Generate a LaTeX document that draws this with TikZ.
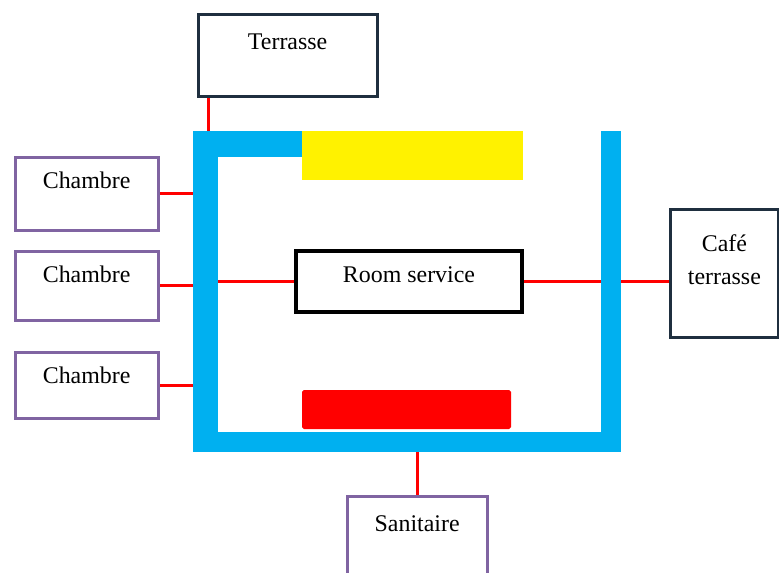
\documentclass[tikz,border=0pt]{standalone}
\usepackage{fontspec}
\setmainfont{Liberation Serif}
\usetikzlibrary{positioning, backgrounds}
\definecolor{wallblue}{HTML}{00B0F0}
\definecolor{roompurple}{HTML}{8064A2}
\definecolor{darknavy}{HTML}{1F2F3F}

\begin{document}
\begin{tikzpicture}[
  block/.style={
    rectangle, anchor=north west, inner sep=0pt,
    font=\fontsize{13.6}{18.8}\selectfont,
    text height=0.62cm, fill=white, line width=0.065cm
  },
  navyblock/.style={block, draw=darknavy},
  roomblock/.style={block, draw=roompurple},
  serviceblock/.style={block, draw=black, line width=0.08cm},
  wallpart/.style={
    rectangle, anchor=north west, inner sep=0pt, outer sep=0pt,
    fill=wallblue
  },
  zone/.style={wallpart, fill=#1},
  link/.style={draw=red, line width=0.06cm}
]
\useasboundingbox (0,0) rectangle (15.58,-11.46);
\clip (0,0) rectangle (15.58,-11.46);
% walls of the hall
\node[wallpart, minimum width=0.50cm, minimum height=6.42cm] (leftwall)   at (3.86,-2.62) {};
\node[wallpart, minimum width=2.18cm, minimum height=0.52cm] (topwall)    at (3.86,-2.62) {};
\node[wallpart, minimum width=8.56cm, minimum height=0.40cm] (bottomwall) at (3.86,-8.64) {};
\node[wallpart, minimum width=0.40cm, minimum height=6.42cm] (rightwall)  at (12.02,-2.62) {};
\node[zone=yellow, minimum width=4.42cm, minimum height=0.98cm] (yellowzone) at (6.04,-2.62) {};
\node[zone=red, rounded corners=1pt, minimum width=4.18cm, minimum height=0.78cm] (redzone) at (6.04,-7.80) {};
% rooms around
\node[navyblock, minimum width=3.58cm, text height=0.71cm, text depth=0.94cm] (terrasse) at (3.93,-0.25) {Terrasse};
\node[roomblock, minimum width=2.86cm, text depth=0.84cm] (chambreA) at (0.27,-3.11) {Chambre};
\node[roomblock, minimum width=2.86cm, text depth=0.76cm, below=0.36cm of chambreA] (chambreB) {Chambre};
\node[roomblock, minimum width=2.86cm, text depth=0.70cm, below=0.58cm of chambreB] (chambreC) {Chambre};
\node[serviceblock, minimum width=4.52cm, text depth=0.60cm] (roomservice) at (5.88,-4.98) {Room service};
\node[navyblock, minimum width=2.17cm, align=center, text height=1.51cm, text depth=1.05cm] (cafe) at (13.37,-4.15) {Café\\terrasse};
\node[roomblock, minimum width=2.80cm, text height=0.71cm, text depth=1.69cm] (sanitaire) at (6.91,-9.89) {Sanitaire};
\coordinate (tdrop) at ([xshift=0.24cm]terrasse.south west);
\begin{scope}[on background layer]
  \draw[link] (tdrop) -- (tdrop |- topwall.north);
  \draw[link] (chambreA.east) -- (chambreA.east -| leftwall.west);
  \draw[link] (chambreB.east) -- (chambreB.east -| leftwall.west);
  \draw[link] (chambreC.east) -- (chambreC.east -| leftwall.west);
  \draw[link] (roomservice.west) -- (roomservice.west -| leftwall.east);
  \draw[link] (roomservice.east) -- (roomservice.east -| cafe.west);
  \draw[link] (sanitaire.north) -- (sanitaire.north |- bottomwall.south);
\end{scope}
\end{tikzpicture}
\end{document}
